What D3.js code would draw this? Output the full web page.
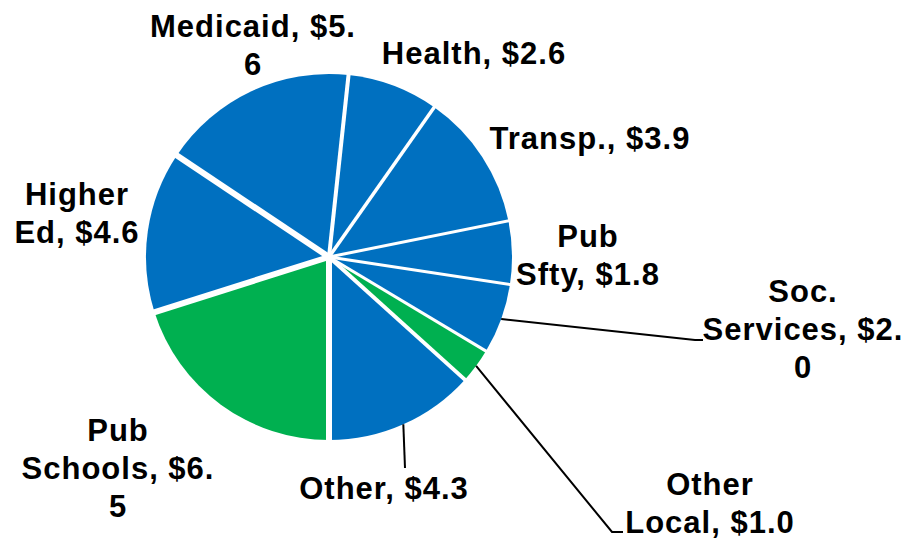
<!DOCTYPE html>
<html>
<head>
<meta charset="utf-8">
<script src="https://cdn.jsdelivr.net/npm/d3@7"></script>
<style>
  body { margin: 0; background: #fff; }
  text { font-family: "Liberation Sans", Arial, sans-serif; font-weight: bold; }
</style>
</head>
<body>
<script>
// budget slices, clockwise from the bottom
var categories = ["Pub Schools", "Higher Ed", "Medicaid", "Health", "Transp.", "Pub Sfty", "Soc. Services", "Other Local", "Other"];
var values = [6.5, 4.6, 5.6, 2.6, 3.9, 1.8, 2.0, 1.0, 4.3];
var labelLines = [
  ["Pub", "Schools, $6.", "5"],
  ["Higher", "Ed, $4.6"],
  ["Medicaid, $5.", "6"],
  ["Health, $2.6"],
  ["Transp., $3.9"],
  ["Pub", "Sfty, $1.8"],
  ["Soc.", "Services, $2.", "0"],
  ["Other", "Local, $1.0"],
  ["Other, $4.3"]
];
var greenSlices = ["Pub Schools", "Other Local"];

var width = 915, height = 538,
  cx = 329, cy = 257, radius = 183,
  lineH = 38;

// where each label sits (centre x, first baseline) and leader line ends
var labelPos = {
  "Pub Schools": [118, 441],
  "Higher Ed": [77, 205],
  "Medicaid": [253, 37],
  "Health": [474, 64],
  "Transp.": [590, 149],
  "Pub Sfty": [588, 247],
  "Soc. Services": [803, 302],
  "Other Local": [710, 495],
  "Other": [384, 499]
};
var leaders = {
  "Soc. Services": [[695, 340], [703, 340]],
  "Other Local": [[612, 532], [623, 532]],
  "Other": [[405, 468]]
};
var gapWidth = [6, 6, 6, 4, 3.5, 3, 3, 3, 4];

var svg = d3.select("body").append("svg")
  .attr("width", width)
  .attr("height", height);

var g = svg.append("g").attr("transform", "translate(" + cx + "," + cy + ")");

var pie = d3.pie().sort(null).startAngle(Math.PI).endAngle(3 * Math.PI);
var arcs = pie(values);
var arc = d3.arc().innerRadius(0).outerRadius(radius);

g.selectAll("path.slice")
  .data(arcs)
  .enter().append("path")
  .attr("class", "slice")
  .attr("d", arc)
  .attr("fill", function (d, i) { return greenSlices.indexOf(categories[i]) >= 0 ? "#00B050" : "#0070C0"; });

// white separators between slices
g.selectAll("line.gap")
  .data(arcs)
  .enter().append("line")
  .attr("class", "gap")
  .attr("x1", 0).attr("y1", 0)
  .attr("x2", function (d) { return (radius + 3) * Math.sin(d.startAngle); })
  .attr("y2", function (d) { return -(radius + 3) * Math.cos(d.startAngle); })
  .attr("stroke", "#fff")
  .attr("stroke-width", function (d, i) { return gapWidth[i]; });

// leader lines
arcs.forEach(function (d, i) {
  var pts = leaders[categories[i]];
  if (!pts) return;
  var mid = (d.startAngle + d.endAngle) / 2;
  var start = [cx + radius * Math.sin(mid), cy - radius * Math.cos(mid)];
  svg.append("path")
    .attr("d", d3.line()([start].concat(pts)))
    .attr("fill", "none")
    .attr("stroke", "#000")
    .attr("stroke-width", 2);
});

// labels
categories.forEach(function (c, i) {
  var p = labelPos[c];
  var t = svg.append("text")
    .attr("x", p[0]).attr("y", p[1])
    .attr("text-anchor", "middle")
    .style("font-size", "31px")
    .style("letter-spacing", "1px")
    .attr("fill", "#000");
  labelLines[i].forEach(function (line, j) {
    t.append("tspan")
      .attr("x", p[0])
      .attr("y", p[1] + j * lineH)
      .text(line);
  });
});
</script>
</body>
</html>
